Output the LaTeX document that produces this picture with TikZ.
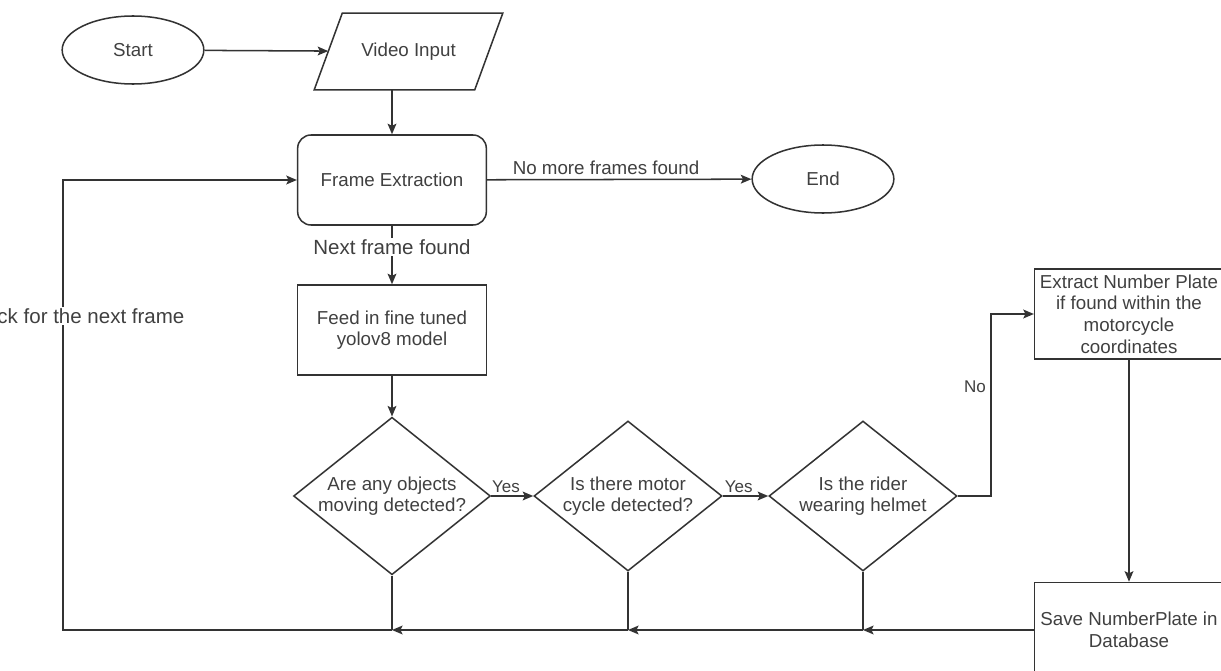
\documentclass[tikz,border=0pt]{standalone}
\usepackage{fontspec}
\setmainfont{Liberation Sans}
\usetikzlibrary{arrows.meta, shapes.geometric}

\begin{document}
\begin{tikzpicture}[->, >={Stealth[length=9pt, width=7.5pt, inset=1.8pt]}, line width=1.3pt, x=0.03cm, y=-0.03cm, color=black!80, text=black!75, font=\fontsize{16}{18.5}\selectfont]
    \tikzstyle{terminal}=[ellipse, draw, minimum width=4.25cm, minimum height=2.04cm, text centered]
    \tikzstyle{io}=[rectangle, minimum width=4.77cm, minimum height=2.25cm, text centered]
    \tikzstyle{process}=[rectangle, draw, minimum width=5.66cm, minimum height=2.7cm, align=center]
    \tikzstyle{decision}=[diamond, draw, minimum width=5.64cm, minimum height=4.5cm, inner sep=0pt, aspect=1.25, align=center]
    \tikzstyle{edgetext}=[fill=white, inner sep=1.5pt]
    \tikzstyle{bigtext}=[font=\fontsize{17.5}{20}\selectfont]
    \tikzstyle{smalltext}=[font=\fontsize{14.5}{17}\selectfont]

    \useasboundingbox (0,0) rectangle (1221,671);
    \clip (0,0) rectangle (1221,671);

    \node[terminal] (start)   at (133,50)  {Start};
    \node[io]       (video)   at (408.5,51.5) {Video Input};
    \node[process, rounded corners=0.4cm] (frame) at (392,180) {Frame Extraction};
    \node[terminal] (end)     at (823,179) {End};
    \node[process]  (feed)    at (392,330) {Feed in fine tuned\\yolov8 model};
    \node[decision] (moving)  at (392,496) {Are any objects\\moving detected?};
    \node[decision] (motor)   at (628,496) {Is there motor\\cycle detected?};
    \node[decision] (helmet)  at (863,496) {Is the rider\\wearing helmet};
    \node[process]  (extract) at (1129,314) {Extract Number Plate\\if found within the\\motorcycle\\coordinates};
    \node[process, minimum height=2.85cm] (save) at (1129,630) {Save NumberPlate in\\Database};

    % parallelogram round the input node
    \draw[-] ([xshift=-0.42cm]video.south west) -- ([xshift=-0.42cm]video.south east)
        -- ([xshift=0.42cm]video.north east) -- ([xshift=0.42cm]video.north west) -- cycle;

    \coordinate (j1) at (392,630);
    \coordinate (j2) at (628,630);
    \coordinate (j3) at (863,630);
    \coordinate (c0) at (63,630);

    \draw (start) -- (video);
    \draw (frame |- video.south) -- (frame);
    \draw (frame) -- node[edgetext, above, pos=0.45, yshift=2pt] {No more frames found} (end);
    \draw (frame) -- node[edgetext, bigtext, pos=0.36] {Next frame found} (feed);
    \draw (feed) -- (moving);
    \draw (moving) -- node[smalltext, above, inner sep=2pt, pos=0.35] {Yes} (motor);
    \draw (motor) -- node[smalltext, above, inner sep=2pt, pos=0.35] {Yes} (helmet);
    \draw (helmet.east) -- ++(33,0) |- node[edgetext, smalltext, left, pos=0.3, xshift=-2pt] {No} (extract);
    \draw (extract) -- (save);

    % loop back along the bottom
    \draw (save) -- (j3);
    \draw[-] (helmet) -- (j3);
    \draw (j3) -- (j2);
    \draw[-] (motor) -- (j2);
    \draw (j2) -- (j1);
    \draw[-] (moving) -- (j1);
    \draw (j1) -- (c0) |- node[edgetext, bigtext, pos=0.349] {Go back for the next frame} (frame);
\end{tikzpicture}
\end{document}
